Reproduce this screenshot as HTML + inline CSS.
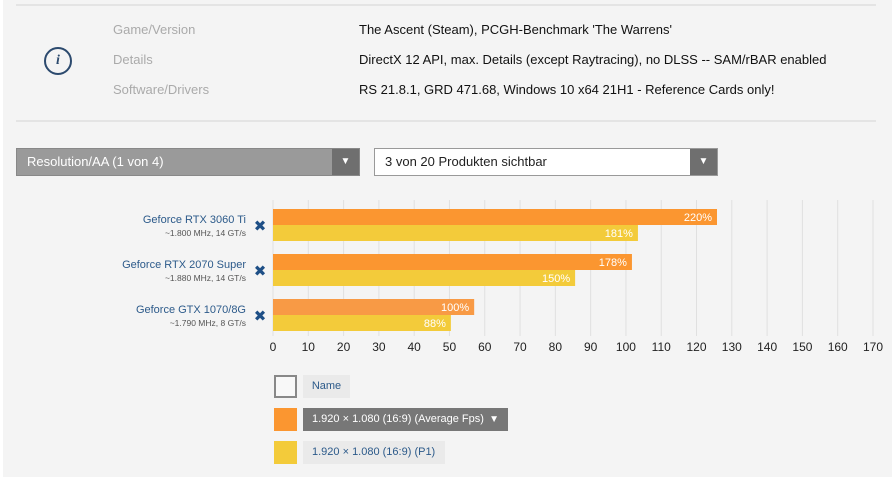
<!DOCTYPE html>
<html><head><meta charset="utf-8">
<style>
body{margin:0;width:892px;height:477px;background:#fff;font-family:"Liberation Sans",sans-serif;overflow:hidden}
#page{position:absolute;left:3px;top:0;width:889px;height:477px;background:#f4f4f4}
.abs{position:absolute}
.hl{position:absolute;left:16px;width:860px;height:2px;background:#e4e4e4}
.lab{position:absolute;left:113px;font-size:13px;color:#aaa}
.val{position:absolute;left:359px;font-size:13px;color:#111}
</style></head><body>
<div id="page"></div>
<div class="hl" style="top:4px"></div>
<div class="hl" style="top:120px"></div>
<div class="abs" style="left:44px;top:47px;width:28px;height:28px;border:2px solid #2c4a6e;border-radius:50%;box-sizing:border-box;text-align:center;font:italic bold 14px 'Liberation Serif',serif;line-height:24px;color:#2c4a6e">i</div>
<div class="lab" style="top:22px">Game/Version</div>
<div class="lab" style="top:52px">Details</div>
<div class="lab" style="top:82px">Software/Drivers</div>
<div class="val" style="top:22px">The Ascent (Steam), PCGH-Benchmark 'The Warrens'</div>
<div class="val" style="top:52px">DirectX 12 API, max. Details (except Raytracing), no DLSS -- SAM/rBAR enabled</div>
<div class="val" style="top:82px">RS 21.8.1, GRD 471.68, Windows 10 x64 21H1 - Reference Cards only!</div>

<div class="abs" style="left:16px;top:148px;width:344px;height:28px;background:#9a9a9a;border:1px solid #888;box-sizing:border-box;color:#fff;font-size:13px;line-height:26px;padding-left:10px">Resolution/AA (1 von 4)<div style="position:absolute;right:0;top:0;width:27px;height:26px;background:#6f6f6f;text-align:center;font-size:10px">▼</div></div>
<div class="abs" style="left:374px;top:148px;width:344px;height:28px;background:#fff;border:1px solid #999;box-sizing:border-box;color:#222;font-size:13px;line-height:26px;padding-left:10px">3 von 20 Produkten sichtbar<div style="position:absolute;right:0;top:0;width:27px;height:26px;background:#6f6f6f;color:#fff;text-align:center;font-size:10px">▼</div></div>

<svg class="abs" style="left:0;top:0" width="892" height="477"></svg>

<div class="abs" style="left:274px;top:375px;width:23px;height:23px;border:2px solid #888;box-sizing:border-box;background:#f8f8f8"></div>
<div class="abs" style="left:303px;top:375px;width:47px;height:23px;background:#eaeaea;color:#2c5a8a;font-size:11px;line-height:23px;text-align:center">Name</div>
<div class="abs" style="left:274px;top:408px;width:23px;height:23px;background:#fb9630"></div>
<div class="abs" style="left:303px;top:408px;width:205px;height:23px;background:#777;color:#fff;font-size:11px;line-height:23px;padding-left:9px;box-sizing:border-box">1.920 × 1.080 (16:9) (Average Fps)<span style="position:absolute;right:9px;font-size:10px">▼</span></div>
<div class="abs" style="left:274px;top:441px;width:23px;height:23px;background:#f3cb3a"></div>
<div class="abs" style="left:303px;top:441px;width:142px;height:23px;background:#eaeaea;color:#2c5a8a;font-size:11px;line-height:23px;padding-left:9px;box-sizing:border-box">1.920 × 1.080 (16:9) (P1)</div>

<script>
const gpus=["Geforce RTX 3060 Ti","Geforce RTX 2070 Super","Geforce GTX 1070/8G"];
const specs=["~1.800 MHz, 14 GT/s","~1.880 MHz, 14 GT/s","~1.790 MHz, 8 GT/s"];
const avgFps=[125.8,101.7,57.0];
const p1Fps=[103.4,85.6,50.4];
const avgPct=["220%","178%","100%"];
const p1Pct=["181%","150%","88%"];
const ticks=[0,10,20,30,40,50,60,70,80,90,100,110,120,130,140,150,160,170];
const NS="http://www.w3.org/2000/svg";
const svg=document.querySelector("svg");
const x=v=>273+v*600/170;
const rowY=i=>209+i*45;
function mk(t,a,p){const e=document.createElementNS(NS,t);for(const k in a)e.setAttribute(k,a[k]);(p||svg).appendChild(e);return e;}
ticks.forEach(t=>{
  const g=mk("line",{x1:x(t),x2:x(t),y1:200,y2:336,stroke:"#e0e0e0","stroke-width":1});
  
  
  const l=mk("text",{x:x(t),y:351,"text-anchor":"middle","font-size":12,fill:"#222","font-family":"Liberation Sans"});
  
  
  l.textContent=t;
});
gpus.forEach((n,i)=>{
  const y=rowY(i);
  const b1=mk("rect",{x:x(0),y:y,width:x(avgFps[i])-x(0),height:16,fill:i==2?"#f89a45":"#fb9630"});
  
  
  const b2=mk("rect",{x:x(0),y:y+16,width:x(p1Fps[i])-x(0),height:16,fill:"#f3cb3a"});
  
  
  const t1=mk("text",{x:x(avgFps[i])-5,y:y+12,"text-anchor":"end","font-size":11,fill:"#fff","font-family":"Liberation Sans"});
  
  
  t1.textContent=avgPct[i];
  const t2=mk("text",{x:x(p1Fps[i])-5,y:y+28,"text-anchor":"end","font-size":11,fill:"#fff","font-family":"Liberation Sans"});
  
  
  t2.textContent=p1Pct[i];
  const nm=mk("text",{x:246,y:y+14,"text-anchor":"end","font-size":11,fill:"#2c5a8a","font-family":"Liberation Sans"});
  
  
  nm.textContent=n;
  const sp=mk("text",{x:246,y:y+27,"text-anchor":"end","font-size":8.5,fill:"#555","font-family":"Liberation Sans"});
  
  
  sp.textContent=specs[i];
  const xr=mk("text",{x:260,y:y+22,"text-anchor":"middle","font-size":15,"font-weight":"bold",fill:"#1e4f86","font-family":"DejaVu Sans"});
  
  
  xr.textContent="✖";
});
</script>
</body></html>
